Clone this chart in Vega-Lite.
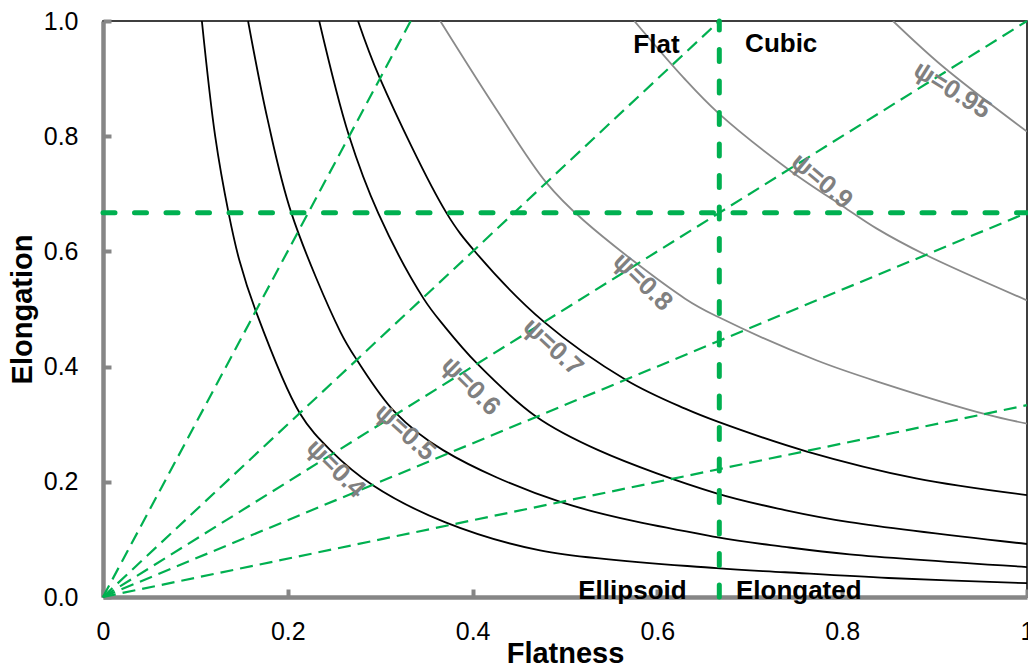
{
  "$schema": "https://vega.github.io/schema/vega-lite/v6.json",
  "width": 924,
  "height": 576,
  "autosize": {"type": "none"},
  "padding": {"left": 103, "top": 21, "right": 1, "bottom": 71},
  "background": "white",
  "datasets": {
    "curves": [
      {"psi": "0.4", "x": 0.107, "y": 1.0}, {"psi": "0.4", "x": 0.1214, "y": 0.8}, {"psi": "0.4", "x": 0.136, "y": 0.666}, {"psi": "0.4", "x": 0.1475, "y": 0.585}, {"psi": "0.4", "x": 0.165, "y": 0.498}, {"psi": "0.4", "x": 0.213, "y": 0.319}, {"psi": "0.4", "x": 0.246, "y": 0.255}, {"psi": "0.4", "x": 0.292, "y": 0.194}, {"psi": "0.4", "x": 0.37, "y": 0.13}, {"psi": "0.4", "x": 0.473, "y": 0.081}, {"psi": "0.4", "x": 0.664, "y": 0.05}, {"psi": "0.4", "x": 0.738, "y": 0.043}, {"psi": "0.4", "x": 0.85, "y": 0.033}, {"psi": "0.4", "x": 1.0, "y": 0.024},
      {"psi": "0.5", "x": 0.157, "y": 1.0}, {"psi": "0.5", "x": 0.178, "y": 0.83}, {"psi": "0.5", "x": 0.204, "y": 0.666}, {"psi": "0.5", "x": 0.257, "y": 0.46}, {"psi": "0.5", "x": 0.275, "y": 0.411}, {"psi": "0.5", "x": 0.316, "y": 0.321}, {"psi": "0.5", "x": 0.368, "y": 0.255}, {"psi": "0.5", "x": 0.495, "y": 0.165}, {"psi": "0.5", "x": 0.664, "y": 0.104}, {"psi": "0.5", "x": 0.738, "y": 0.087}, {"psi": "0.5", "x": 0.808, "y": 0.074}, {"psi": "0.5", "x": 1.0, "y": 0.052},
      {"psi": "0.6", "x": 0.234, "y": 1.0}, {"psi": "0.6", "x": 0.266, "y": 0.802}, {"psi": "0.6", "x": 0.298, "y": 0.666}, {"psi": "0.6", "x": 0.347, "y": 0.518}, {"psi": "0.6", "x": 0.37, "y": 0.469}, {"psi": "0.6", "x": 0.405, "y": 0.405}, {"psi": "0.6", "x": 0.469, "y": 0.313}, {"psi": "0.6", "x": 0.536, "y": 0.255}, {"psi": "0.6", "x": 0.664, "y": 0.18}, {"psi": "0.6", "x": 0.738, "y": 0.151}, {"psi": "0.6", "x": 0.808, "y": 0.13}, {"psi": "0.6", "x": 1.0, "y": 0.092},
      {"psi": "0.7", "x": 0.276, "y": 1.0}, {"psi": "0.7", "x": 0.299, "y": 0.903}, {"psi": "0.7", "x": 0.372, "y": 0.666}, {"psi": "0.7", "x": 0.403, "y": 0.599}, {"psi": "0.7", "x": 0.477, "y": 0.478}, {"psi": "0.7", "x": 0.567, "y": 0.376}, {"psi": "0.7", "x": 0.63, "y": 0.327}, {"psi": "0.7", "x": 0.666, "y": 0.304}, {"psi": "0.7", "x": 0.761, "y": 0.253}, {"psi": "0.7", "x": 0.88, "y": 0.206}, {"psi": "0.7", "x": 1.0, "y": 0.177},
      {"psi": "0.8", "x": 0.365, "y": 1.0}, {"psi": "0.8", "x": 0.426, "y": 0.846}, {"psi": "0.8", "x": 0.48, "y": 0.719}, {"psi": "0.8", "x": 0.52, "y": 0.654}, {"psi": "0.8", "x": 0.63, "y": 0.518}, {"psi": "0.8", "x": 0.666, "y": 0.486}, {"psi": "0.8", "x": 0.772, "y": 0.411}, {"psi": "0.8", "x": 0.844, "y": 0.371}, {"psi": "0.8", "x": 0.956, "y": 0.317}, {"psi": "0.8", "x": 1.0, "y": 0.301},
      {"psi": "0.9", "x": 0.575, "y": 1.0}, {"psi": "0.9", "x": 0.628, "y": 0.902}, {"psi": "0.9", "x": 0.666, "y": 0.84}, {"psi": "0.9", "x": 0.743, "y": 0.741}, {"psi": "0.9", "x": 0.801, "y": 0.678}, {"psi": "0.9", "x": 0.837, "y": 0.64}, {"psi": "0.9", "x": 0.889, "y": 0.595}, {"psi": "0.9", "x": 1.0, "y": 0.515},
      {"psi": "0.95", "x": 0.855, "y": 1.0}, {"psi": "0.95", "x": 0.909, "y": 0.921}, {"psi": "0.95", "x": 1.0, "y": 0.808}
    ],
    "rays": [
      {"x": 0, "y": 0, "x2": 0.333, "y2": 1.0},
      {"x": 0, "y": 0, "x2": 0.667, "y2": 1.0},
      {"x": 0, "y": 0, "x2": 1.0, "y2": 1.0},
      {"x": 0, "y": 0, "x2": 1.0, "y2": 0.667},
      {"x": 0, "y": 0, "x2": 1.0, "y2": 0.333}
    ],
    "bounds": [
      {"x": 0, "y": 0.667, "x2": 1.0, "y2": 0.667},
      {"x": 0.667, "y": 0, "x2": 0.667, "y2": 1.0}
    ],
    "psiLabels": [
      {"label": "ψ=0.4", "x": 0.252, "y": 0.223},
      {"label": "ψ=0.5", "x": 0.327, "y": 0.286},
      {"label": "ψ=0.6", "x": 0.398, "y": 0.366},
      {"label": "ψ=0.7", "x": 0.487, "y": 0.434},
      {"label": "ψ=0.8", "x": 0.584, "y": 0.547},
      {"label": "ψ=0.9", "x": 0.778, "y": 0.722},
      {"label": "ψ=0.95", "x": 0.919, "y": 0.88}
    ],
    "zones": [
      {"label": "Flat", "x": 0.599, "y": 0.944},
      {"label": "Cubic", "x": 0.734, "y": 0.947},
      {"label": "Ellipsoid", "x": 0.573, "y": -0.003},
      {"label": "Elongated", "x": 0.753, "y": -0.003}
    ]
  },
  "config": {
    "view": {"stroke": "#000000", "strokeWidth": 1.5},
    "axis": {
      "grid": false,
      "domainColor": "#868686",
      "domainWidth": 4.5,
      "tickColor": "#868686",
      "tickWidth": 4,
      "tickSize": -8,
      "labelFont": "Liberation Sans",
      "labelFontSize": 25,
      "labelColor": "#000000",
      "labelFlush": false,
      "labelOverlap": false,
      "labelBound": false,
      "titleFont": "Liberation Sans",
      "titleFontSize": 29,
      "titleFontWeight": "bold",
      "titleColor": "#000000"
    },
    "axisX": {"labelPadding": 30, "titlePadding": -5},
    "axisY": {"labelPadding": 33, "titlePadding": 6}
  },
  "layer": [
    {
      "data": {"name": "curves"},
      "mark": {"type": "line", "interpolate": "catmull-rom", "strokeWidth": 1.8, "clip": true},
      "encoding": {
        "x": {"field": "x", "type": "quantitative", "title": "Flatness", "scale": {"domain": [0, 1], "nice": false, "zero": false}, "axis": {"values": [0, 0.2, 0.4, 0.6, 0.8, 1], "format": "~g"}},
        "y": {"field": "y", "type": "quantitative", "title": "Elongation", "scale": {"domain": [0, 1], "nice": false, "zero": false}, "axis": {"values": [0, 0.2, 0.4, 0.6, 0.8, 1], "format": ".1f"}},
        "color": {"field": "psi", "type": "nominal", "legend": null, "scale": {"domain": ["0.4", "0.5", "0.6", "0.7", "0.8", "0.9", "0.95"], "range": ["#000000", "#000000", "#000000", "#000000", "#8a8a8a", "#8a8a8a", "#8a8a8a"]}}
      }
    },
    {
      "data": {"name": "rays"},
      "mark": {"type": "rule", "color": "#00B050", "strokeWidth": 2.2, "strokeDash": [13, 7]},
      "encoding": {
        "x": {"field": "x", "type": "quantitative", "title": "Flatness"},
        "y": {"field": "y", "type": "quantitative", "title": "Elongation"},
        "x2": {"field": "x2"},
        "y2": {"field": "y2"}
      }
    },
    {
      "data": {"name": "bounds"},
      "mark": {"type": "rule", "color": "#00B050", "strokeWidth": 5, "strokeDash": [12, 19.5], "strokeCap": "round"},
      "encoding": {
        "x": {"field": "x", "type": "quantitative", "title": "Flatness"},
        "y": {"field": "y", "type": "quantitative", "title": "Elongation"},
        "x2": {"field": "x2"},
        "y2": {"field": "y2"}
      }
    },
    {
      "data": {"name": "zones"},
      "mark": {"type": "text", "font": "Liberation Sans", "fontSize": 26, "fontWeight": "bold", "color": "#000000", "align": "center", "baseline": "alphabetic"},
      "encoding": {
        "x": {"field": "x", "type": "quantitative", "title": "Flatness"},
        "y": {"field": "y", "type": "quantitative", "title": "Elongation"},
        "text": {"field": "label"}
      }
    },
    {
      "data": {"name": "psiLabels"},
      "transform": [{"filter": "datum.label == 'ψ=0.4'"}],
      "mark": {"type": "text", "font": "Liberation Sans", "fontSize": 26, "fontWeight": "bold", "color": "#808080", "align": "center", "baseline": "middle", "angle": 45},
      "encoding": {"x": {"field": "x", "type": "quantitative", "title": "Flatness"}, "y": {"field": "y", "type": "quantitative", "title": "Elongation"}, "text": {"field": "label"}}
    },
    {
      "data": {"name": "psiLabels"},
      "transform": [{"filter": "datum.label == 'ψ=0.5'"}],
      "mark": {"type": "text", "font": "Liberation Sans", "fontSize": 26, "fontWeight": "bold", "color": "#808080", "align": "center", "baseline": "middle", "angle": 42},
      "encoding": {"x": {"field": "x", "type": "quantitative", "title": "Flatness"}, "y": {"field": "y", "type": "quantitative", "title": "Elongation"}, "text": {"field": "label"}}
    },
    {
      "data": {"name": "psiLabels"},
      "transform": [{"filter": "datum.label == 'ψ=0.6'"}],
      "mark": {"type": "text", "font": "Liberation Sans", "fontSize": 26, "fontWeight": "bold", "color": "#808080", "align": "center", "baseline": "middle", "angle": 45},
      "encoding": {"x": {"field": "x", "type": "quantitative", "title": "Flatness"}, "y": {"field": "y", "type": "quantitative", "title": "Elongation"}, "text": {"field": "label"}}
    },
    {
      "data": {"name": "psiLabels"},
      "transform": [{"filter": "datum.label == 'ψ=0.7'"}],
      "mark": {"type": "text", "font": "Liberation Sans", "fontSize": 26, "fontWeight": "bold", "color": "#808080", "align": "center", "baseline": "middle", "angle": 43},
      "encoding": {"x": {"field": "x", "type": "quantitative", "title": "Flatness"}, "y": {"field": "y", "type": "quantitative", "title": "Elongation"}, "text": {"field": "label"}}
    },
    {
      "data": {"name": "psiLabels"},
      "transform": [{"filter": "datum.label == 'ψ=0.8'"}],
      "mark": {"type": "text", "font": "Liberation Sans", "fontSize": 26, "fontWeight": "bold", "color": "#808080", "align": "center", "baseline": "middle", "angle": 44},
      "encoding": {"x": {"field": "x", "type": "quantitative", "title": "Flatness"}, "y": {"field": "y", "type": "quantitative", "title": "Elongation"}, "text": {"field": "label"}}
    },
    {
      "data": {"name": "psiLabels"},
      "transform": [{"filter": "datum.label == 'ψ=0.9'"}],
      "mark": {"type": "text", "font": "Liberation Sans", "fontSize": 26, "fontWeight": "bold", "color": "#808080", "align": "center", "baseline": "middle", "angle": 40},
      "encoding": {"x": {"field": "x", "type": "quantitative", "title": "Flatness"}, "y": {"field": "y", "type": "quantitative", "title": "Elongation"}, "text": {"field": "label"}}
    },
    {
      "data": {"name": "psiLabels"},
      "transform": [{"filter": "datum.label == 'ψ=0.95'"}],
      "mark": {"type": "text", "font": "Liberation Sans", "fontSize": 26, "fontWeight": "bold", "color": "#808080", "align": "center", "baseline": "middle", "angle": 32},
      "encoding": {"x": {"field": "x", "type": "quantitative", "title": "Flatness"}, "y": {"field": "y", "type": "quantitative", "title": "Elongation"}, "text": {"field": "label"}}
    }
  ]
}
